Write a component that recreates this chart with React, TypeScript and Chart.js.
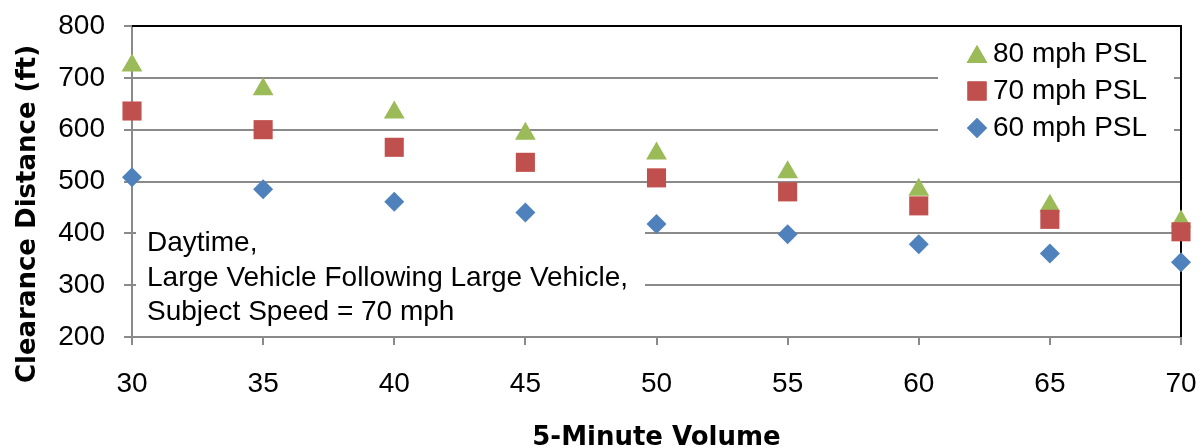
import React, { useEffect, useRef } from 'react';
import { Chart, registerables } from 'chart.js';
import { drawPoint } from 'chart.js/helpers';

Chart.register(...registerables);

// ---- data ----
const volumes = [30, 35, 40, 45, 50, 55, 60, 65, 70];
const psl80 = [724, 678, 633, 592, 554, 518, 484, 453, 423];
const psl70 = [636, 600, 566, 537, 507, 480, 453, 427, 403];
const psl60 = [508, 485, 461, 440, 418, 398, 379, 361, 344];
const seriesLabels = ['80 mph PSL', '70 mph PSL', '60 mph PSL'];
const seriesColors = ['#9BBB59', '#C0504D', '#4F81BD'];
const seriesShapes = ['triangle', 'rect', 'rectRot'];
const seriesRadius = [12, 13.5, 10];
const noteLines = ['Daytime,', 'Large Vehicle Following Large Vehicle,', 'Subject Speed = 70 mph'];
const xTitle = '5-Minute Volume';
const yTitle = 'Clearance Distance (ft)';
const xMin = 30, xMax = 70, xStep = 5;
const yMin = 200, yMax = 800, yStep = 100;

const FONT = '"Liberation Sans", Arial, sans-serif';
const TITLE_FONT = '"DejaVu Sans", sans-serif';
const GRID = '#8a8a8a';

const decor = {
  id: 'decor',
  beforeDatasetsDraw(chart: any) {
    const { ctx, chartArea: a } = chart;
    ctx.save();
    // white boxes (annotation + legend) covering grid lines
    ctx.fillStyle = '#ffffff';
    ctx.fillRect(136, 222, 509, 110);
    ctx.fillRect(938, 30, 236, 118);
    // black top/right plot border
    ctx.strokeStyle = '#000000';
    ctx.lineWidth = 2;
    ctx.beginPath();
    ctx.moveTo(a.left, a.top);
    ctx.lineTo(a.right, a.top);
    ctx.lineTo(a.right, a.bottom);
    ctx.stroke();
    // annotation text
    ctx.fillStyle = '#000000';
    ctx.font = `28px ${FONT}`;
    ctx.textAlign = 'left';
    ctx.textBaseline = 'alphabetic';
    noteLines.forEach((t, i) => ctx.fillText(t, 147, 251 + i * 34.5));
    // legend
    const rows = [54, 91, 128];
    seriesLabels.forEach((lab, i) => {
      ctx.fillStyle = seriesColors[i];
      drawPoint(ctx, { pointStyle: seriesShapes[i], radius: seriesRadius[i], borderWidth: 0, rotation: 0 } as any, 977, rows[i] + (i === 0 ? 3 : 0));
      ctx.fill();
      ctx.fillStyle = '#000000';
      ctx.font = `28px ${FONT}`;
      ctx.textBaseline = 'middle';
      ctx.fillText(lab, 993, rows[i]);
    });
    ctx.restore();
  },
  afterDraw(chart: any) {
    const { ctx, chartArea: a } = chart;
    ctx.save();
    ctx.fillStyle = '#000000';
    ctx.font = `bold 26px ${TITLE_FONT}`;
    ctx.textAlign = 'center';
    ctx.textBaseline = 'alphabetic';
    ctx.fillText(xTitle, (a.left + a.right) / 2, 445);
    ctx.translate(35, 214);
    ctx.rotate(-Math.PI / 2);
    ctx.fillText(yTitle, 0, 0);
    ctx.restore();
  },
};

export default function App() {
  const ref = useRef<HTMLCanvasElement | null>(null);
  useEffect(() => {
    if (!ref.current) return;
    const mk = (vals: number[], i: number) => ({
      label: seriesLabels[i],
      data: volumes.map((x, k) => ({ x, y: vals[k] })),
      pointStyle: seriesShapes[i],
      pointRadius: seriesRadius[i],
      pointHoverRadius: seriesRadius[i],
      pointBackgroundColor: seriesColors[i],
      pointBorderWidth: 0,
      borderColor: seriesColors[i],
      backgroundColor: seriesColors[i],
      showLine: false,
      clip: false as any,
    });
    const chart = new Chart(ref.current, {
      type: 'scatter',
      data: {
        // order: 60 drawn last (on top), 80 drawn first
        datasets: [mk(psl60, 2), mk(psl70, 1), mk(psl80, 0)],
      },
      plugins: [decor],
      options: {
        animation: false,
        responsive: false,
        events: [],
        layout: { padding: { top: 26, right: 23, left: 0, bottom: 0 } },
        plugins: { legend: { display: false }, tooltip: { enabled: false }, title: { display: false } },
        scales: {
          x: {
            type: 'linear',
            min: xMin,
            max: xMax,
            afterFit: (s: any) => { s.height = 111; s.paddingLeft = 0; s.paddingRight = 0; },
            ticks: { stepSize: xStep, color: '#000', font: { family: FONT, size: 28 }, padding: 22, maxRotation: 0 },
            grid: { drawOnChartArea: false, drawTicks: true, tickLength: 8, color: GRID, lineWidth: 2 },
            border: { color: GRID, width: 2 },
          },
          y: {
            type: 'linear',
            min: yMin,
            max: yMax,
            afterFit: (s: any) => { s.width = 132; s.paddingTop = 0; s.paddingBottom = 0; },
            ticks: { stepSize: yStep, color: '#000', font: { family: FONT, size: 28 }, padding: 19 },
            grid: { drawTicks: true, tickLength: 8, color: GRID, lineWidth: 2 },
            border: { color: GRID, width: 2 },
          },
        },
      },
    });
    return () => chart.destroy();
  }, []);
  return (
    <div style={{ position: 'absolute', left: 0, top: 0, width: 1204, height: 448, background: '#fff' }}>
      <canvas ref={ref} width={1204} height={448} style={{ display: 'block' }} />
    </div>
  );
}
